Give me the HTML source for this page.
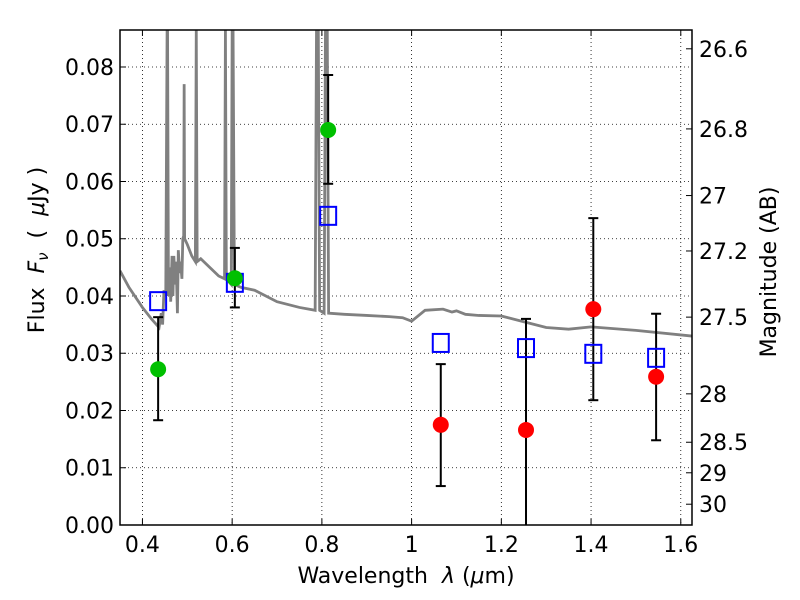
<!DOCTYPE html>
<html><head><meta charset="utf-8"><style>
body{margin:0;background:#fff;}
svg{display:block;font-family:"DejaVu Sans","Liberation Sans",sans-serif;}
.pre{white-space:pre;}
</style></head><body>
<svg id="c" width="800" height="600" xmlns="http://www.w3.org/2000/svg"></svg>
<script>
const bands=[0.435,0.606,0.814,1.065,1.255,1.405,1.545];
const detFlux=[0.0272,0.0431,0.069,null,null,null,null];
const ndFlux=[null,null,null,0.0175,0.0166,0.0377,0.0259];
const errLo=[0.0183,0.0380,0.0596,0.0068,-0.003,0.0218,0.0148];
const errHi=[0.0363,0.0484,0.0786,0.0281,0.0360,0.0536,0.0369];
const modelFlux=[0.0391,0.0423,0.054,0.0318,0.0309,0.0299,0.0292];
const specWave=[0.35,0.37,0.40,0.42,0.437,0.442,0.445,0.448,0.452,0.455,0.456,0.458,0.461,0.463,0.466,0.468,0.47,0.473,0.475,0.478,0.48,0.483,0.485,0.488,0.49,0.492,0.493,0.494,0.5,0.51,0.518,0.52,0.522,0.53,0.55,0.57,0.583,0.585,0.587,0.598,0.6,0.602,0.605,0.62,0.65,0.7,0.75,0.785,0.788,0.792,0.795,0.805,0.808,0.812,0.815,0.85,0.9,0.95,0.98,1.0,1.03,1.07,1.09,1.1,1.12,1.15,1.2,1.25,1.3,1.35,1.4,1.5,1.625];
const specFlux=[0.0444,0.0415,0.038,0.036,0.0345,0.037,0.035,0.041,0.040,0.0865,0.0865,0.040,0.045,0.039,0.047,0.040,0.047,0.042,0.046,0.037,0.048,0.044,0.046,0.043,0.05,0.0505,0.077,0.05,0.049,0.047,0.046,0.0865,0.046,0.0465,0.045,0.0435,0.043,0.0865,0.043,0.042,0.0865,0.0865,0.042,0.0415,0.041,0.039,0.038,0.0375,0.0865,0.0865,0.0375,0.037,0.0865,0.0865,0.037,0.0368,0.0366,0.0364,0.0362,0.0356,0.0375,0.0377,0.0372,0.0374,0.0368,0.0366,0.0365,0.0355,0.0345,0.0342,0.0346,0.034,0.033];
const xTicks=[0.4,0.6,0.8,1.0,1.2,1.4,1.6];
const xTickLabels=["0.4","0.6","0.8","1","1.2","1.4","1.6"];
const yTicks=[0,0.01,0.02,0.03,0.04,0.05,0.06,0.07,0.08];
const yTickLabels=["0.00","0.01","0.02","0.03","0.04","0.05","0.06","0.07","0.08"];
const magTicks=[26.6,26.8,27,27.2,27.5,28,28.5,29,30];
const magTickLabels=["26.6","26.8","27","27.2","27.5","28","28.5","29","30"];

const L=120,R=692,T=30,B=525,XMIN=0.35,XMAX=1.625,YMIN=0,YMAX=0.08646;
const X=v=>L+(v-XMIN)/(XMAX-XMIN)*(R-L);
const Y=v=>B-(v-YMIN)/(YMAX-YMIN)*(B-T);
const svg=document.getElementById('c');
const NS='http://www.w3.org/2000/svg';
const FS=22;
function mk(tag,at,parent){const e=document.createElementNS(NS,tag);for(const k in at)e.setAttribute(k,at[k]);(parent||svg).appendChild(e);return e;}
const clip=mk('clipPath',{id:'pc'});mk('rect',{x:L,y:T,width:R-L,height:B-T},clip);
xTicks.forEach((t,i)=>{
 const g=mk('line',{x1:X(t),x2:X(t),y1:T,y2:B,stroke:'#000','stroke-width':0.8,'stroke-dasharray':'1,3'});
 
 mk('line',{x1:X(t),x2:X(t),y1:B,y2:B-6,stroke:'#000'});mk('line',{x1:X(t),x2:X(t),y1:T,y2:T+6,stroke:'#000'});
 const tx=mk('text',{x:X(t),y:B+27,'text-anchor':'middle','font-size':FS});tx.textContent=xTickLabels[i];
 
});
yTicks.forEach((t,i)=>{
 if(t>0){const g=mk('line',{x1:L,x2:R,y1:Y(t),y2:Y(t),stroke:'#000','stroke-width':0.8,'stroke-dasharray':'1,3'});
 }
 mk('line',{x1:L,x2:L+6,y1:Y(t),y2:Y(t),stroke:'#000'});
 const tx=mk('text',{x:L-6,y:Y(t)+8,'text-anchor':'end','font-size':FS});tx.textContent=yTickLabels[i];
 
});
magTicks.forEach((m,i)=>{
 const f=Math.pow(10,(23.9-m)/2.5);const y=Y(f);
 mk('line',{x1:R,x2:R-6,y1:y,y2:y,stroke:'#000'});
 const tx=mk('text',{x:R+7,y:y+8,'font-size':FS});tx.textContent=magTickLabels[i];
 
});
const gp=mk('g',{'clip-path':'url(#pc)'});
const sp=mk('polyline',{points:specWave.map((w,i)=>X(w)+','+Y(specFlux[i])).join(' '),fill:'none',stroke:'#808080','stroke-width':2.8},gp);

bands.forEach((b,i)=>{
 const x=X(b);
 const e=mk('line',{x1:x,x2:x,y1:Y(errLo[i]),y2:Y(errHi[i]),stroke:'#000','stroke-width':2},gp);
 
 [errLo[i],errHi[i]].forEach(v=>mk('line',{x1:x-5,x2:x+5,y1:Y(v),y2:Y(v),stroke:'#000','stroke-width':2},gp));
});
bands.forEach((b,i)=>{
 const s=mk('rect',{x:X(b)-8,y:Y(modelFlux[i])-9,width:16,height:18,fill:'none',stroke:'#0000ff','stroke-width':2},gp);
 
});
bands.forEach((b,i)=>{
 if(detFlux[i]!=null){const c=mk('circle',{cx:X(b),cy:Y(detFlux[i]),r:8,fill:'#00c000'},gp);
 }
 if(ndFlux[i]!=null){const c=mk('circle',{cx:X(b),cy:Y(ndFlux[i]),r:8,fill:'#ff0000'},gp);
 }
});
const fr=mk('rect',{x:L,y:T,width:R-L,height:B-T,fill:'none',stroke:'#000','stroke-width':1.5});

</script>
<svg style="position:absolute;left:0;top:0" width="800" height="600" xmlns="http://www.w3.org/2000/svg" font-family="DejaVu Sans, Liberation Sans, sans-serif">
<text class="pre" x="406" y="583" text-anchor="middle" font-size="22">Wavelength  <tspan font-style="italic">λ</tspan> (<tspan font-style="italic">μ</tspan>m)</text>
<text class="pre" transform="translate(44,250) rotate(-90)" text-anchor="middle" font-size="22">Flux  <tspan font-style="italic">F</tspan><tspan font-style="italic" font-size="15" dy="4">ν</tspan><tspan dy="-4">  (  </tspan><tspan font-style="italic">μ</tspan>Jy )</text>
<text transform="translate(776,272) rotate(-90)" text-anchor="middle" font-size="22">Magnitude (AB)</text>
</svg>
</body></html>
